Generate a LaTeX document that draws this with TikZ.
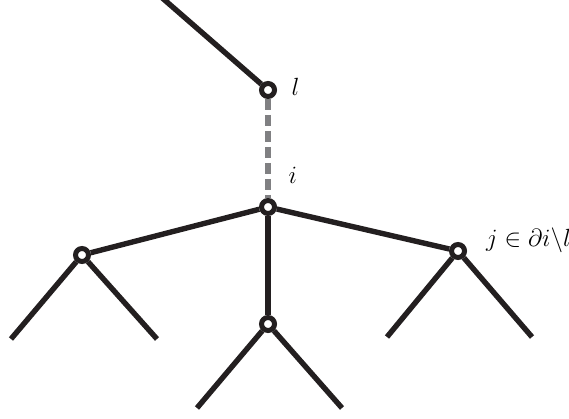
\documentclass[tikz,border=0pt]{standalone}
\usetikzlibrary{positioning}
\definecolor{ink}{RGB}{35,31,32}
\definecolor{msg}{RGB}{128,128,130}
\begin{document}
\begin{tikzpicture}[x=1pt,y=-1pt,font=\fontsize{25}{30}\selectfont]
\tikzstyle{v}=[circle,draw=ink,fill=white,line width=5pt,inner sep=0pt,minimum size=13pt]
\tikzstyle{e}=[draw=ink,line width=5.4pt]
\useasboundingbox (0,0) rectangle (569,419);
% vertices
\node[v] (l) at (268,90) {};
\node[v] (i) at (268,207) {};
\node[v] (a) at (82,255) {};
\node[v] (b) at (268,324) {};
\node[v] (c) at (458,251) {};
% free ends
\coordinate (top) at (160,-4);
\coordinate (a1) at (11,339);
\coordinate (a2) at (157,339);
\coordinate (b1) at (197,408);
\coordinate (b2) at (342,408);
\coordinate (c1) at (387,337);
\coordinate (c2) at (532,337);
% edges
\draw[e] (l) -- (top);
\draw[msg,line width=5.4pt,dash pattern=on 11pt off 5pt] (l) -- (i);
\draw[e] (i) -- (a); \draw[e] (i) -- (b); \draw[e] (i) -- (c);
\draw[e] (a) -- (a1); \draw[e] (a) -- (a2);
\draw[e] (b) -- (b1); \draw[e] (b) -- (b2);
\draw[e] (c) -- (c1); \draw[e] (c) -- (c2);
% labels
\node[anchor=west] (ll) at (288,87) {$l$};
\node[anchor=west] (li) at (285,175) {$i$};
\node[anchor=east,inner sep=0pt] (lj) at (571,240) {$j\in\partial i\backslash l$};
\end{tikzpicture}
\end{document}
